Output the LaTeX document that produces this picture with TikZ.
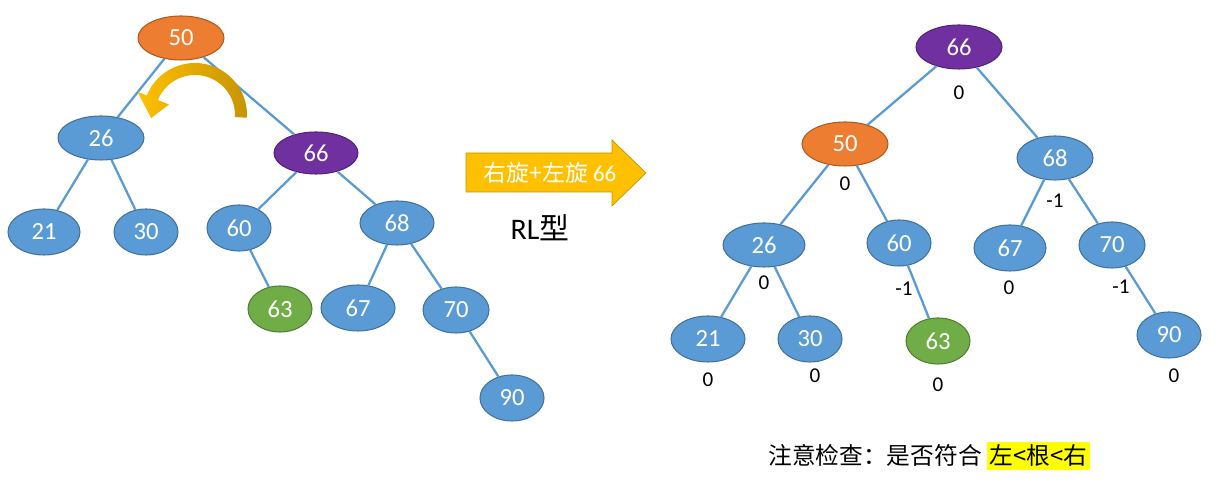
\documentclass[tikz,border=0pt]{standalone}
\usepackage{fontspec}
\setmainfont{Carlito}
\newfontfamily\cjk{Noto Sans CJK SC}
\usetikzlibrary{calc,shapes.geometric}
\definecolor{avlblue}{HTML}{5B9BD5}
\definecolor{avlblueline}{HTML}{41719C}
\definecolor{avlorange}{HTML}{ED7D31}
\definecolor{avlorangeline}{HTML}{AE5A21}
\definecolor{avlpurple}{HTML}{7030A0}
\definecolor{avlpurpleline}{HTML}{52237A}
\definecolor{avlgreen}{HTML}{70AD47}
\definecolor{avlgreenline}{HTML}{507E32}
\definecolor{rotgold}{HTML}{FFC000}
\definecolor{rotdark}{HTML}{C59400}
\definecolor{marker}{HTML}{FFFF00}
\tikzset{
  keynode/.style={
    ellipse, draw=avlblueline, fill=avlblue, line width=0.6pt,
    minimum width=1.36cm, minimum height=0.92cm, inner sep=0pt,
    text=white, font=\fontsize{14}{16}\selectfont
  },
  widenode/.style={keynode, minimum width=1.72cm, minimum height=0.88cm},
  rootnode/.style={fill=avlorange, draw=avlorangeline},
  topnode/.style={fill=avlpurple, draw=avlpurpleline},
  newnode/.style={fill=avlgreen, draw=avlgreenline},
  treeedge/.style={avlblue, line width=1.3pt},
  bflabel/.style={font=\fontsize{12}{14}\selectfont, text=black, inner sep=0pt}
}
\begin{document}
\begin{tikzpicture}
  \useasboundingbox (0,0) rectangle (24.5,9.82);

  % Before: unbalanced tree
  \node[widenode, rootnode] (n50) at (3.62, 9.06) {50};
  \node[widenode] (n26) at (2.02, 7.06) {26};
  \node[keynode, minimum width=1.44cm] (n21) at (0.88, 5.18) {21};
  \node[keynode, minimum width=1.28cm] (n30) at (2.92, 5.18) {30};
  \node[widenode, topnode, minimum width=1.68cm, minimum height=0.84cm] (n66) at (6.32, 6.76) {66};
  \node[keynode, minimum width=1.28cm] (n60) at (4.78, 5.26) {60};
  \node[keynode, minimum width=1.48cm, minimum height=0.88cm] (n68) at (7.94, 5.36) {68};
  \node[keynode, newnode, minimum width=1.28cm] (n63) at (5.60, 3.64) {63};
  \node[keynode, minimum width=1.48cm] (n67) at (7.16, 3.66) {67};
  \node[keynode, minimum width=1.32cm] (n70) at (9.12, 3.62) {70};
  \node[keynode, minimum width=1.28cm] (n90) at (10.24, 1.86) {90};

  \draw[treeedge] (n50) -- (n26);
  \draw[treeedge] (n50) -- (n66);
  \draw[treeedge] (n26) -- (n21);
  \draw[treeedge] (n26) -- (n30);
  \draw[treeedge] (n66) -- (n60);
  \draw[treeedge] (n66) -- (n68);
  \draw[treeedge] (n60) -- (n63);
  \draw[treeedge] (n68) -- (n67);
  \draw[treeedge] (n68) -- (n70);
  \draw[treeedge] (n70) -- (n90);

  % Rotation mark
  \coordinate (rotc) at (3.9, 7.52);
  \shade[left color=rotgold, right color=rotdark]
    ($(rotc)+(-3:1.04)$) arc[start angle=-3, end angle=158, radius=1.04cm]
    -- ($(rotc)+(158:1.24)$) -- ($(rotc)+(184:0.88)$) -- ($(rotc)+(158:0.56)$)
    -- ($(rotc)+(158:0.8)$) arc[start angle=158, end angle=-3, radius=0.8cm]
    -- cycle;

  % Big arrow
  \fill[rotgold, draw=rotdark, line width=0.4pt]
    (9.32, 6.76) -- (12.24, 6.76) -- (12.24, 7.02) -- (12.92, 6.36)
    -- (12.24, 5.70) -- (12.24, 5.98) -- (9.32, 5.98) -- cycle;
  \node[text=white, font=\fontsize{13}{15}\selectfont] (rltext) at (11.0, 6.37)
    {{\cjk 右旋+左旋} 66};
  \node[font=\fontsize{17}{19}\selectfont] (rltype) at (10.8, 5.26) {RL{\cjk 型}};

  % After: balanced tree
  \node[widenode, topnode] (r66) at (19.18, 8.88) {66};
  \node[widenode, rootnode] (r50) at (16.90, 6.94) {50};
  \node[keynode, minimum width=1.52cm, minimum height=0.88cm] (r68) at (21.10, 6.66) {68};
  \node[keynode, minimum width=1.64cm, minimum height=0.88cm] (r26) at (15.28, 4.92) {26};
  \node[keynode, minimum width=1.28cm] (r60) at (17.98, 4.96) {60};
  \node[keynode, minimum width=1.44cm] (r67) at (20.20, 4.86) {67};
  \node[keynode, minimum width=1.32cm] (r70) at (22.24, 4.92) {70};
  \node[keynode, minimum width=1.48cm] (r21) at (14.16, 3.04) {21};
  \node[keynode, minimum width=1.28cm] (r30) at (16.20, 3.04) {30};
  \node[keynode, newnode, minimum width=1.28cm] (r63) at (18.76, 3.00) {63};
  \node[keynode, minimum width=1.28cm] (r90) at (23.38, 3.12) {90};

  \draw[treeedge] (r66) -- (r50);
  \draw[treeedge] (r66) -- (r68);
  \draw[treeedge] (r50) -- (r26);
  \draw[treeedge] (r50) -- (r60);
  \draw[treeedge] (r68) -- (r67);
  \draw[treeedge] (r68) -- (r70);
  \draw[treeedge] (r26) -- (r21);
  \draw[treeedge] (r26) -- (r30);
  \draw[treeedge] (r60) -- (r63);
  \draw[treeedge] (r70) -- (r90);

  % Balance factors
  \node[bflabel] (b66) at (19.18, 7.96) {0};
  \node[bflabel] (b50) at (16.90, 6.14) {0};
  \node[bflabel] (b68) at (21.10, 5.80) {-1};
  \node[bflabel] (b26) at (15.28, 4.16) {0};
  \node[bflabel] (b60) at (18.08, 4.04) {-1};
  \node[bflabel] (b67) at (20.18, 4.06) {0};
  \node[bflabel] (b70) at (22.42, 4.08) {-1};
  \node[bflabel] (b21) at (14.16, 2.22) {0};
  \node[bflabel] (b30) at (16.30, 2.30) {0};
  \node[bflabel] (b63) at (18.76, 2.12) {0};
  \node[bflabel] (b90) at (23.48, 2.30) {0};

  % Note
  \node[anchor=west, inner sep=0pt, font=\cjk\fontsize{13.5}{15}\selectfont] (note) at (15.36, 0.70)
    {注意检查：是否符合 {\setlength\fboxsep{1.5pt}\colorbox{marker}{左<根<右}}};
\end{tikzpicture}
\end{document}
